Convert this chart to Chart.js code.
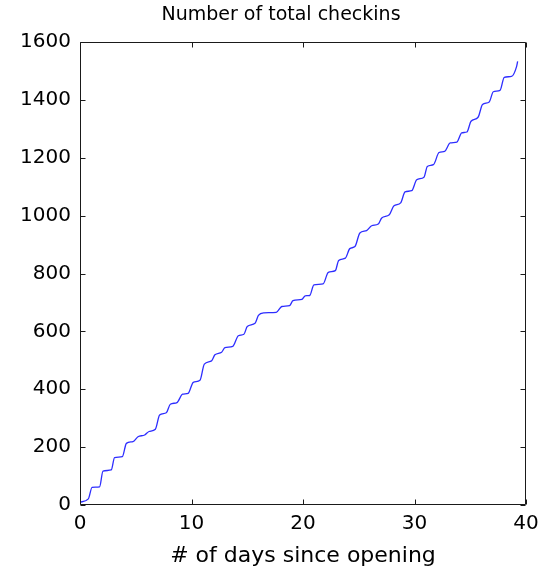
<!DOCTYPE html>
<html>
<head>
<meta charset="utf-8">
<script src="https://cdn.jsdelivr.net/npm/chart.js@4.4.0/dist/chart.umd.min.js"></script>
<style>
  html, body { margin: 0; padding: 0; background: #ffffff; }
  canvas { display: block; }
</style>
</head>
<body>
<canvas id="c" width="551" height="575"></canvas>
<script>
// ---- Data ----
const days = [0.0, 0.75, 1.08, 1.76, 2.06, 2.8, 3.1, 3.8, 4.16, 4.75, 5.2, 5.8, 6.19, 6.76, 7.14, 7.74,
  8.1, 8.7, 9.2, 9.7, 10.16, 10.76, 11.15, 11.8, 12.1, 12.7, 13.0, 13.7, 14.2, 14.7, 15.0, 15.7,
  16.0, 16.5, 17.6, 18.1, 18.8, 19.1, 19.9, 20.2, 20.6, 20.98, 21.8, 22.27, 22.9, 23.2, 23.8,
  24.2, 24.66, 25.1, 25.7, 26.16, 26.75, 27.06, 27.74, 28.16, 28.76, 29.15, 29.75, 30.2, 30.85,
  31.15, 31.7, 32.2, 32.7, 33.2, 33.8, 34.23, 34.7, 35.07, 35.7, 36.1, 36.7, 37.07, 37.67,
  38.05, 38.7, 39.16, 39.25];
const checkins = [10, 21, 61, 63, 117, 121, 164, 167, 213, 219, 236, 242, 254, 262, 311, 319,
  348, 354, 383, 386, 424, 431, 487, 498, 519, 528, 544, 548, 585, 590, 617, 628,
  655, 664, 666, 686, 689, 706, 711, 723, 724, 761, 764, 804, 810, 845, 853,
  886, 893, 940, 948, 965, 971, 992, 1003, 1034, 1044, 1082, 1086, 1124, 1133,
  1170, 1176, 1218, 1222, 1251, 1254, 1286, 1289, 1326, 1340, 1384, 1393, 1428, 1433,
  1478, 1481, 1516, 1533];
const xTicks = [0, 10, 20, 30, 40];
const yTicks = [0, 200, 400, 600, 800, 1000, 1200, 1400, 1600];
const titleText = 'Number of total checkins';
const xLabel = '# of days since opening';

const points = days.map((d, i) => ({ x: d, y: checkins[i] }));
const FONT = 'DejaVu Sans, Liberation Sans, Arial, sans-serif';
const AXIS = '#1a1a1a';

const boxPlugin = {
  id: 'matlabBox',
  afterDraw(chart) {
    const { ctx, chartArea: a, scales } = chart;
    const L = Math.round(a.left) + 0.5, R = Math.round(a.right) - 0.5;
    const T = Math.round(a.top) + 0.5, B = Math.round(a.bottom) - 0.5;
    const len = 5;
    ctx.save();
    ctx.strokeStyle = AXIS;
    ctx.lineWidth = 1;
    ctx.beginPath();
    ctx.rect(L, T, R - L, B - T);
    xTicks.forEach(v => {
      const px = Math.round(scales.x.getPixelForValue(v)) + 0.5;
      ctx.moveTo(px, B); ctx.lineTo(px, B - len);
      ctx.moveTo(px, T); ctx.lineTo(px, T + len);
    });
    yTicks.forEach(v => {
      const py = Math.round(scales.y.getPixelForValue(v)) + 0.5;
      ctx.moveTo(L, py); ctx.lineTo(L + len, py);
      ctx.moveTo(R, py); ctx.lineTo(R - len, py);
    });
    ctx.stroke();
    // title, centred as in the reference
    ctx.fillStyle = '#000';
    ctx.font = '19px ' + FONT;
    ctx.textAlign = 'center';
    ctx.textBaseline = 'middle';
    ctx.fillText(titleText, 281, 15);
    ctx.restore();
  }
};

new Chart(document.getElementById('c'), {
  type: 'line',
  data: {
    datasets: [{
      data: points,
      borderColor: 'rgb(45,45,255)',
      borderWidth: 1.3,
      pointRadius: 0,
      fill: false,
      cubicInterpolationMode: 'monotone'
    }]
  },
  options: {
    responsive: false,
    animation: false,
    layout: { padding: { left: 0, right: 25, top: 42, bottom: 0 } },
    plugins: {
      legend: { display: false },
      tooltip: { enabled: false },
      title: { display: false }
    },
    scales: {
      x: {
        type: 'linear',
        min: 0, max: 40,
        afterBuildTicks: s => { s.ticks = xTicks.map(v => ({ value: v })); },
        afterFit: s => { s.height = 70; },
        grid: { display: false, drawTicks: false },
        border: { display: false },
        ticks: { color: '#000', font: { family: FONT, size: 20 }, padding: 7, maxRotation: 0,
                 callback: v => String(v) },
        title: {
          display: true, text: xLabel, color: '#000',
          font: { family: FONT, size: 22 }, padding: { top: 0, bottom: 6 }
        }
      },
      y: {
        type: 'linear',
        min: 0, max: 1600,
        afterBuildTicks: s => { s.ticks = yTicks.map(v => ({ value: v })); },
        afterFit: s => { s.width = 80; },
        grid: { display: false, drawTicks: false },
        border: { display: false },
        ticks: { color: '#000', font: { family: FONT, size: 20 }, padding: 9,
                 callback: v => String(v) }
      }
    }
  },
  plugins: [boxPlugin]
});
</script>
</body>
</html>
